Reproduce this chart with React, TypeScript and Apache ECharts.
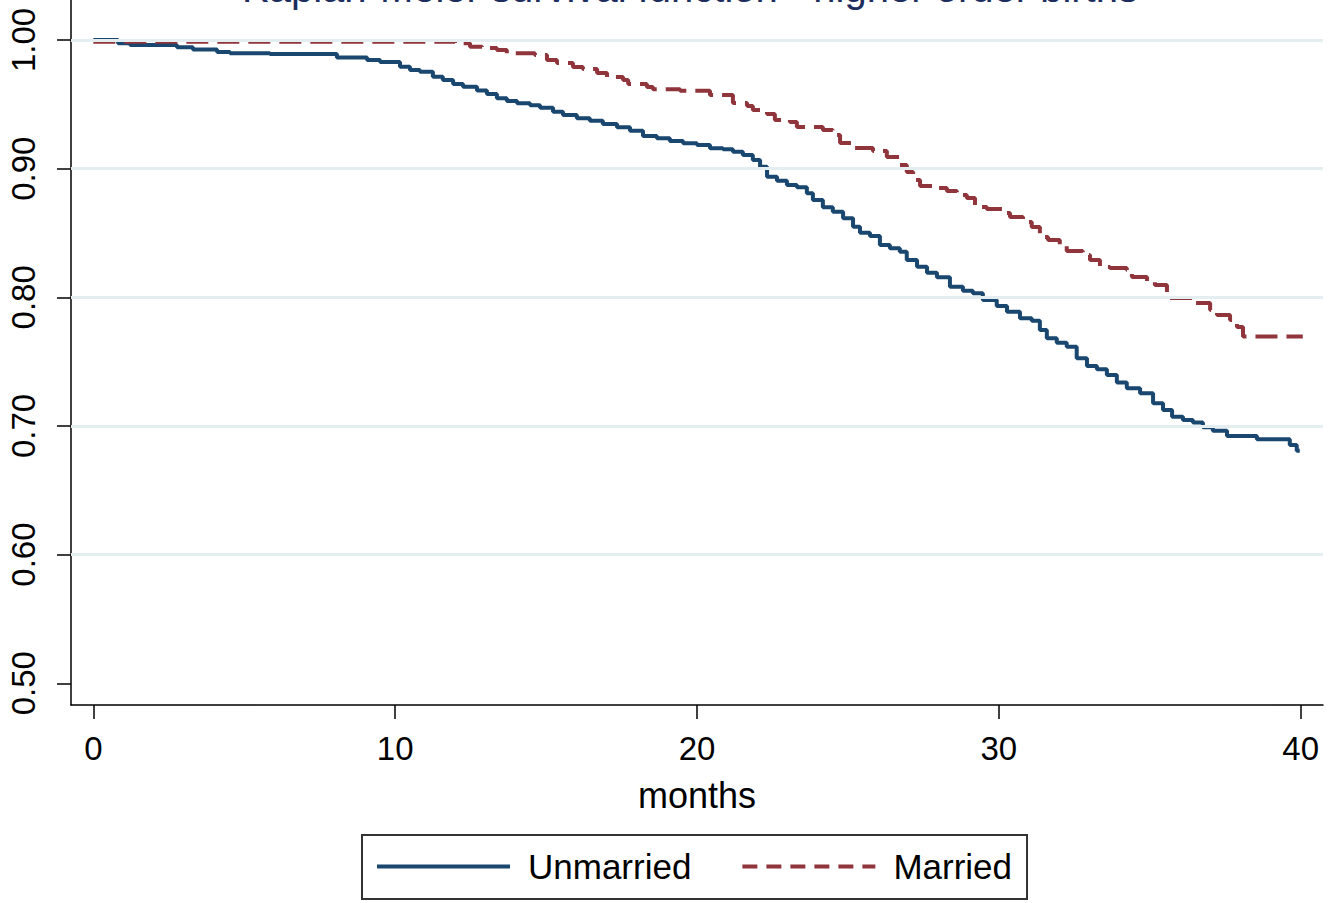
import React, { useEffect, useRef } from "react";
import * as echarts from "echarts";

const titleText = "Kaplan-Meier survival function - higher order births";
const xAxisTitle = "months";
const xTicks = [0, 10, 20, 30, 40];
const yTicks = [0.5, 0.6, 0.7, 0.8, 0.9, 1.0];
const gridValues = [0.6, 0.7, 0.8, 0.9, 1.0];
const seriesNames = ["Unmarried", "Married"];

const unmarriedMonths = [
  0, 0.82, 1.22, 2.77, 3.3, 4.1, 4.53, 5.85, 8.07, 9.07, 9.5, 10.16, 10.49, 10.82, 11.25,
  11.58, 11.92, 12.25, 12.71, 13.04, 13.37, 13.7, 14.04, 14.47, 14.8, 15.23, 15.56, 16.02,
  16.45, 16.88, 17.35, 17.78, 18.21, 18.67, 19.1, 19.54, 20.0, 20.43, 20.86, 21.19, 21.52,
  21.85, 22.09, 22.32, 22.65, 22.98, 23.31, 23.64, 23.84, 24.17, 24.5, 24.84, 25.17, 25.4,
  25.73, 26.06, 26.39, 26.72, 26.95, 27.29, 27.62, 27.95, 28.38, 28.81, 29.14, 29.47, 29.93,
  30.27, 30.7, 31.09, 31.36, 31.59, 31.92, 32.25, 32.58, 32.92, 33.25, 33.58, 33.91, 34.24,
  34.68, 35.11, 35.44, 35.74, 36.1, 36.43, 36.76, 37.09, 37.56, 38.55, 39.64, 39.87, 39.97,
];
const unmarriedSurvival = [
  1.0, 0.9974, 0.9961, 0.9943, 0.9926, 0.9907, 0.9897, 0.9891, 0.9864, 0.9845, 0.9829,
  0.9792, 0.9767, 0.9754, 0.9715, 0.9689, 0.9658, 0.9637, 0.9607, 0.958, 0.9547, 0.9526,
  0.9508, 0.9492, 0.9474, 0.9443, 0.9417, 0.9391, 0.9373, 0.9347, 0.9321, 0.9295, 0.9254,
  0.9236, 0.9215, 0.9197, 0.9184, 0.9158, 0.915, 0.9131, 0.9106, 0.9067, 0.9015, 0.8937,
  0.8906, 0.8873, 0.8855, 0.8808, 0.8756, 0.87, 0.8665, 0.8614, 0.8549, 0.8502, 0.8477,
  0.8407, 0.8381, 0.8355, 0.829, 0.8238, 0.8191, 0.8156, 0.8083, 0.8051, 0.8031, 0.7979,
  0.7933, 0.7888, 0.7837, 0.7818, 0.7746, 0.7681, 0.7647, 0.7616, 0.7526, 0.7466, 0.7441,
  0.7396, 0.7337, 0.7293, 0.7254, 0.7176, 0.7124, 0.7072, 0.7047, 0.7026, 0.699, 0.6963,
  0.6922, 0.6897, 0.6852, 0.6808, 0.6808,
];

const marriedMonths = [
  0, 11.98, 12.48, 12.88, 13.37, 13.7, 14.63, 15.03, 15.36, 15.89, 16.22, 16.69, 17.02,
  17.55, 17.72, 18.34, 18.54, 19.44, 20.43, 21.19, 21.66, 21.85, 22.32, 22.58, 23.08, 23.31,
  24.17, 24.5, 24.74, 25.17, 25.83, 26.29, 26.72, 26.95, 27.16, 27.39, 27.95, 28.28, 28.61,
  28.94, 29.21, 29.6, 30.14, 30.37, 30.8, 31.09, 31.36, 31.63, 32.02, 32.25, 32.78, 33.02,
  33.35, 33.68, 34.24, 34.41, 34.91, 35.17, 35.57, 35.67, 36.5, 37.0, 37.23, 37.66, 37.89,
  38.09, 40.07,
];
const marriedSurvival = [
  0.9987, 0.9974, 0.9948, 0.9938, 0.9922, 0.9897, 0.9883, 0.9845, 0.9821, 0.979, 0.9775,
  0.9744, 0.9712, 0.9689, 0.9658, 0.9635, 0.9617, 0.9606, 0.9573, 0.951, 0.9487, 0.9456,
  0.9425, 0.9378, 0.9363, 0.9324, 0.93, 0.9262, 0.9199, 0.9161, 0.9137, 0.9091, 0.9028,
  0.8974, 0.8912, 0.8865, 0.885, 0.8826, 0.8795, 0.8772, 0.8702, 0.8686, 0.8655, 0.8624,
  0.8585, 0.8547, 0.8469, 0.8445, 0.8406, 0.836, 0.8329, 0.829, 0.8235, 0.8228, 0.8212,
  0.8158, 0.8119, 0.8096, 0.8034, 0.7995, 0.7956, 0.7902, 0.7863, 0.7824, 0.777, 0.7695,
  0.7695,
];

const BLUE = "#1a476f";
const RED = "#90353b";
const FONT = "'Liberation Sans', Arial, Helvetica, sans-serif";

export default function App() {
  const ref = useRef<HTMLDivElement>(null);
  useEffect(() => {
    if (!ref.current) return;
    const chart = echarts.init(ref.current, undefined, { renderer: "svg" });
    const unmarried = unmarriedMonths.map((m, i) => [m, unmarriedSurvival[i]]);
    const married = marriedMonths.map((m, i) => [m, marriedSurvival[i]]);
    const hidden = { color: "rgba(0,0,0,0)", borderWidth: 0, borderColor: "rgba(0,0,0,0)" };
    chart.setOption({
      animation: false,
      backgroundColor: "#ffffff",
      textStyle: { fontFamily: FONT },
      grid: { left: 71, top: 0, width: 1252, height: 705 },
      graphic: [
        {
          type: "text",
          x: 690,
          y: -12,
          style: {
            text: titleText,
            x: 0,
            y: 0,
            fill: "#1c2d5e",
            font: `40px ${FONT}`,
            textAlign: "center",
            textVerticalAlign: "middle",
          },
        },
      ],
      legend: {
        left: 362,
        top: 835,
        orient: "horizontal",
        borderColor: "#333333",
        borderWidth: 2,
        padding: [14, 15, 15, 13],
        itemWidth: 133,
        itemHeight: 20,
        itemGap: 49,
        textStyle: { fontSize: 35, color: "#000", fontFamily: FONT, padding: [0, 0, 0, 13] },
        data: [
          { name: seriesNames[0], itemStyle: hidden, lineStyle: { color: BLUE, width: 4 } },
          { name: seriesNames[1], itemStyle: hidden, lineStyle: { color: RED, width: 4, type: [15, 9] } },
        ],
      },
      xAxis: {
        type: "value",
        min: -0.74,
        max: 40.74,
        name: xAxisTitle,
        nameLocation: "middle",
        nameGap: 72,
        nameTextStyle: { fontSize: 36, color: "#000", fontFamily: FONT },
        axisLine: { show: true, onZero: false, lineStyle: { color: "#000", width: 1.5 } },
        axisTick: { show: true, length: 14, customValues: xTicks, lineStyle: { color: "#000", width: 1.5 } },
        axisLabel: { customValues: xTicks, fontSize: 33, color: "#000", margin: 27 },
        splitLine: { show: false },
      },
      yAxis: {
        type: "value",
        min: 0.4831,
        max: 1.0311,
        axisLine: { show: true, onZero: false, lineStyle: { color: "#000", width: 1.5 } },
        axisTick: { show: true, length: 14, customValues: yTicks, lineStyle: { color: "#000", width: 1.5 } },
        axisLabel: {
          customValues: yTicks,
          fontSize: 33,
          color: "#000",
          rotate: 90,
          margin: 31,
          formatter: (v: number) => v.toFixed(2),
        },
        splitLine: { show: false },
      },
      series: [
        {
          name: "grid",
          type: "line",
          data: [],
          silent: true,
          z: 1,
          markLine: {
            silent: true,
            symbol: "none",
            label: { show: false },
            lineStyle: { color: "#e4edf0", width: 3, type: "solid" },
            data: gridValues.map((v) => ({ yAxis: v })),
          },
        },
        {
          name: seriesNames[0],
          type: "line",
          step: "end",
          data: unmarried,
          showSymbol: false,
          symbol: "none",
          z: 3,
          lineStyle: { color: BLUE, width: 4 },
          itemStyle: { color: BLUE },
        },
        {
          name: seriesNames[1],
          type: "line",
          step: "end",
          data: married,
          showSymbol: false,
          symbol: "none",
          z: 3,
          lineStyle: { color: RED, width: 4, type: [22, 9] },
          itemStyle: { color: RED },
        },
      ],
    });
    return () => chart.dispose();
  }, []);
  return (
    <div
      ref={ref}
      style={{ position: "absolute", left: 0, top: 0, width: 1340, height: 903, background: "#fff" }}
    />
  );
}
